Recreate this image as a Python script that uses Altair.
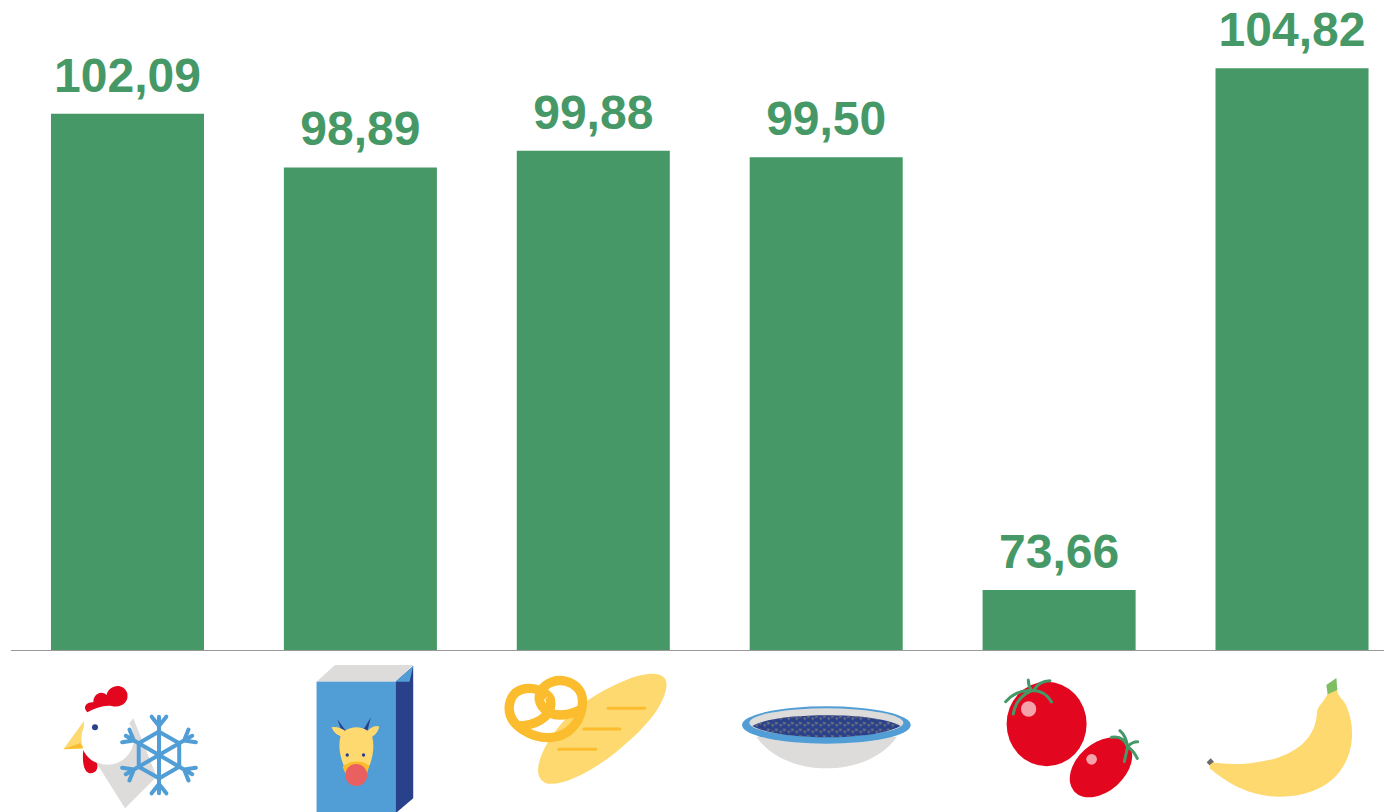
import urllib.parse
import altair as alt
import pandas as pd

categories = ["Frozen chicken", "Milk", "Bread", "Lentils", "Tomatoes", "Bananas"]
values = [102.09, 98.89, 99.88, 99.50, 73.66, 104.82]
labels = ["102,09", "98,89", "99,88", "99,50", "73,66", "104,82"]
axis_floor = [70.08, 70.08, 70.08, 70.08, 70.08, 70.08]

GREEN = "#469966"
BLUE = "#519dd6"
NAVY = "#29408a"
GREY = "#dedcdb"
YEL = "#fdd96f"
ORG = "#fbbd2d"
RED = "#e2061f"


def svg(cx, ox, body, defs=""):
    # drawn in 3x crop coordinates, placed through a translate and scale
    return (
        f'<svg xmlns="http://www.w3.org/2000/svg" width="220" height="160" '
        f'viewBox="{cx - 110} 655 220 160">{defs}'
        f'<g transform="translate({ox} 640) scale(0.33333)">{body}</g></svg>'
    )


flake_arm = (
    f'<g stroke="{BLUE}" stroke-width="12" fill="none" stroke-linecap="round">'
    '<path d="M477 345V230M477 258L455 230M477 258L499 230M477 275L538 310"/></g>'
)
flake = "".join(f'<g transform="rotate({a} 477 345)">{flake_arm}</g>' for a in range(0, 360, 60))
chicken = (
    f'<path d="M290 370L375 505L470 410L400 235Z" fill="{GREY}"/>'
    f'<path d="M250 330C245 375 255 400 272 400C292 400 296 378 290 368C272 362 258 348 250 330Z" fill="{RED}"/>'
    f'<path d="M252 243L190 328L250 325Z" fill="{YEL}"/><path d="M190 328L250 325L240 310Z" fill="{ORG}"/>'
    f'<circle cx="323" cy="295" r="79" fill="#fff"/>'
    f'<path d="M262 217C245 200 262 185 280 187C280 160 305 150 320 165C325 135 370 125 382 160'
    f'C388 190 360 205 335 198C310 195 285 205 262 217Z" fill="{RED}"/>'
    f'<circle cx="285" cy="262" r="9" fill="{NAVY}"/>' + flake
)
carton = (
    f'<path d="M950 125L1005 75H1240L1187 125Z" fill="{GREY}"/>'
    f'<rect x="950" y="125" width="237" height="420" fill="{BLUE}"/>'
    f'<path d="M1187 125L1240 78V475L1187 520Z" fill="{NAVY}"/>'
    f'<path d="M1187 125L1240 78L1229 125Z" fill="{BLUE}"/>'
    f'<path d="M1012 238L1045 282L1030 285ZM1113 232L1100 282L1085 278Z" fill="{NAVY}"/>'
    f'<path d="M995 262C1010 258 1025 265 1035 272C1055 258 1085 258 1103 272C1115 262 1128 255 1138 260'
    f'C1135 275 1125 285 1117 290C1125 320 1118 360 1105 385L1035 385C1020 350 1014 320 1022 288'
    f'C1010 285 1000 275 995 262Z" fill="{YEL}"/>'
    f'<path d="M1028 380C1050 360 1090 360 1108 378L1100 405H1038Z" fill="{ORG}"/>'
    f'<circle cx="1069" cy="405" r="33" fill="#ea5f5f"/>'
    f'<circle cx="1042" cy="345" r="5" fill="{NAVY}"/><circle cx="1091" cy="345" r="5" fill="{NAVY}"/>'
)
bread = (
    f'<path d="M590 140C595 90 530 95 470 120C380 155 290 215 235 305C205 355 190 410 225 428'
    f'C265 445 360 400 440 335C520 270 580 205 590 140Z" fill="{YEL}"/>'
    f'<path d="M415 205H525M342 267H450M267 328H378" stroke="{ORG}" stroke-width="9" stroke-linecap="round" fill="none"/>'
    f'<path d="M235 168C205 135 120 130 118 205C118 260 190 295 240 293C300 290 340 240 338 180'
    f'C335 120 250 100 215 150C195 185 225 225 270 225C290 225 310 220 330 210M150 258C190 255 245 235 243 190C243 180 240 172 235 168"'
    f' fill="none" stroke="{ORG}" stroke-width="28"/>'
)
tri_defs = (
    '<defs><pattern id="s" width="24" height="20" patternUnits="userSpaceOnUse" patternTransform="translate(2 3)">'
    '<path d="M1 2L12 4L5 13Z" fill="#74767c"/><path d="M14 10L24 9L20 19Z" fill="#74767c"/></pattern></defs>'
)
food = "M848 258C890 235 980 226 1070 226C1160 226 1250 235 1292 258C1250 282 1160 292 1070 292C980 292 890 282 848 258Z"
bowl = (
    f'<path d="M860 290C900 350 980 385 1070 385C1160 385 1240 350 1282 290Z" fill="{GREY}"/>'
    f'<ellipse cx="1070" cy="255" rx="253" ry="56" fill="{BLUE}"/>'
    f'<ellipse cx="1070" cy="248" rx="231" ry="43" fill="{GREY}"/>'
    f'<path d="{food}" fill="{NAVY}"/><path d="{food}" fill="url(#s)"/>'
)
tomato = (
    f'<ellipse cx="345" cy="252" rx="120" ry="127" fill="{RED}"/>'
    f'<ellipse cx="508" cy="382" rx="108" ry="72" transform="rotate(-42 508 382)" fill="{RED}"/>'
    f'<circle cx="291" cy="207" r="23" fill="#f4a3ab"/><circle cx="480" cy="358" r="16" fill="#f4a3ab"/>'
    f'<path d="M222 185C250 155 280 150 300 152C330 150 350 170 360 186M245 222C250 190 270 165 300 152'
    f'M290 120C290 135 295 145 300 152M355 122C330 122 315 135 305 152'
    f'M565 272C580 285 585 300 588 320M540 292C560 288 578 295 588 320M618 305C605 305 595 312 588 320'
    f'M617 355C610 340 600 328 588 320M578 365C582 350 585 335 588 320" fill="none" stroke="{GREEN}" stroke-width="9" stroke-linecap="round"/>'
)
banana = (
    f'<path d="M833 365C930 385 1150 370 1155 215C1160 190 1185 180 1188 152L1215 150C1218 170 1235 180 1242 195'
    f'C1290 300 1250 470 1040 470C950 470 880 425 833 385Z" fill="{YEL}"/>'
    f'<path d="M1183 135L1213 114L1216 150L1187 163Z" fill="#7fbe63"/>'
    f'<path d="M824 367L836 355L846 365L832 376Z" fill="#6a6a6a"/>'
)

icons = [
    svg(127.5, 0, chicken),
    svg(360.5, 0, carton),
    svg(593.5, 470, bread),
    svg(826.5, 470, bowl, tri_defs),
    svg(1059.5, 932, tomato),
    svg(1292, 932, banana),
]
icon_urls = ["data:image/svg+xml;charset=utf-8," + urllib.parse.quote(s) for s in icons]

df = pd.DataFrame(
    {"cat": categories, "value": values, "floor": axis_floor, "label": labels, "icon": icon_urls}
)

W, H = 1376, 804
BASE = 642
x = alt.X(
    "cat:N",
    sort=categories,
    axis=None,
    scale=alt.Scale(domain=categories, range=[0, 1403.5], paddingInner=0.343, paddingOuter=0.1845),
)
y = alt.Y("value:Q", axis=None, scale=alt.Scale(domain=[70.08, 108.41], range=[BASE, 0], zero=False, nice=False))

base = alt.Chart(df)
bars = base.mark_bar(color=GREEN).encode(x=x, y=y, y2="floor:Q")
text = base.mark_text(
    font="Liberation Sans", fontWeight="bold", fontSize=48, color=GREEN, baseline="alphabetic", dy=-22
).encode(x=x, y=y, text="label:N")
rule = base.mark_rule(color="#999999", strokeWidth=1).encode(
    x=alt.value(3.5), x2=alt.value(W), y=alt.value(BASE + 0.5)
)
img = base.mark_image(width=220, height=160, align="center", baseline="top").encode(
    x=x, y=alt.value(647), url="icon:N"
)

chart = (
    alt.layer(bars, rule, text, img)
    .properties(width=W, height=H, padding=0, autosize=alt.AutoSizeParams(type="none"), background="white")
    .configure_view(stroke=None)
)
chart.save("out.html", embed_options={"renderer": "svg", "actions": False})
